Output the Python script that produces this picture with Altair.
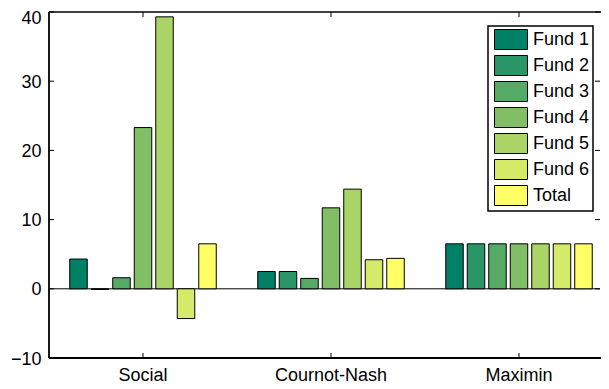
import altair as alt
import pandas as pd

categories = ["Social", "Cournot-Nash", "Maximin"]
series = ["Fund 1", "Fund 2", "Fund 3", "Fund 4", "Fund 5", "Fund 6", "Total"]
social = [4.3, -0.1, 1.6, 23.3, 39.3, -4.3, 6.5]
cournot = [2.5, 2.5, 1.5, 11.7, 14.4, 4.2, 4.4]
maximin = [6.5, 6.5, 6.5, 6.5, 6.5, 6.5, 6.5]
colors = ["#008066", "#2a9566", "#55aa66", "#80bf66", "#aad466", "#d5ea66", "#ffff66"]
y_ticks = [-10, 0, 10, 20, 30, 40]

rows = []
for cat, vals in zip(categories, [social, cournot, maximin]):
    for s, v in zip(series, vals):
        rows.append({"scheme": cat, "fund": s, "value": v})
df = pd.DataFrame(rows)
cat_df = pd.DataFrame({"scheme": categories})
tick_df = pd.DataFrame({"t": y_ticks})
zero_df = pd.DataFrame({"z": [0]})
frame_df = pd.DataFrame({"k": [0]})

W, H = 551, 346
FONT = "Liberation Sans"

xscale = alt.Scale(domain=categories, paddingInner=0.2207, paddingOuter=0.0758, align=0.728)
yscale = alt.Scale(domain=[-10, 40], nice=False, zero=False)

xaxis = alt.Axis(title=None, labelAngle=0, domain=False, ticks=False, labelFontSize=18,
                 labelFont=FONT, labelColor="black", labelPadding=8)
yaxis = alt.Axis(title=None, values=y_ticks, grid=False, domain=False, ticks=False,
                 labelFontSize=18, labelFont=FONT, labelColor="black", labelPadding=8,
                 labelOffset={"condition": {"test": "datum.value === 40", "value": 6}, "value": 1})

zero = alt.Chart(zero_df).mark_rule(color="black", strokeWidth=1).encode(
    y=alt.Y("z:Q", scale=yscale, axis=yaxis)
)

bars = alt.Chart(df).mark_bar(stroke="black", strokeWidth=1, opacity=1).encode(
    x=alt.X("scheme:N", scale=xscale, sort=categories, axis=xaxis),
    xOffset=alt.XOffset("fund:N", sort=series, scale=alt.Scale(paddingInner=0.186, paddingOuter=0)),
    y=alt.Y("value:Q", scale=yscale, axis=yaxis),
    color=alt.Color(
        "fund:N",
        scale=alt.Scale(domain=series, range=colors),
        legend=alt.Legend(
            title=None, orient="none", legendX=439, legendY=14,
            fillColor="white", strokeColor="black", padding=3,
            symbolType="M-1.65,-1H1.65V1H-1.65Z", symbolSize=400,
            symbolOffset=9.5,
            symbolStrokeColor="black", symbolStrokeWidth=1, symbolOpacity=1,
            labelFontSize=18, labelFont=FONT, labelColor="black", labelOffset=11.5,
            rowPadding=1,
        ),
    ),
)

left_ticks = alt.Chart(tick_df).mark_rule(color="black", strokeWidth=1).encode(
    y=alt.Y("t:Q", scale=yscale), x=alt.value(0), x2=alt.value(5)
)
right_ticks = alt.Chart(tick_df).mark_rule(color="black", strokeWidth=1).encode(
    y=alt.Y("t:Q", scale=yscale), x=alt.value(W - 5), x2=alt.value(W)
)
top_ticks = alt.Chart(cat_df).mark_rule(color="black", strokeWidth=1).encode(
    x=alt.X("scheme:N", scale=xscale, sort=categories), y=alt.value(0), y2=alt.value(5)
)
bottom_ticks = alt.Chart(cat_df).mark_rule(color="black", strokeWidth=1).encode(
    x=alt.X("scheme:N", scale=xscale, sort=categories), y=alt.value(H - 5), y2=alt.value(H)
)

frame_left = alt.Chart(frame_df).mark_rule(color="black", strokeWidth=1.8).encode(
    x=alt.value(0), y=alt.value(0), y2=alt.value(H)
)
frame_top = alt.Chart(frame_df).mark_rule(color="black", strokeWidth=1.5).encode(
    y=alt.value(0), x=alt.value(0), x2=alt.value(W + 1)
)
frame_bottom = alt.Chart(frame_df).mark_rule(color="black", strokeWidth=1.8).encode(
    y=alt.value(H), x=alt.value(0), x2=alt.value(W + 1)
)

chart = alt.layer(
    zero, bars, left_ticks, right_ticks, top_ticks, bottom_ticks,
    frame_left, frame_top, frame_bottom,
).properties(
    width=W, height=H,
    autosize=alt.AutoSizeParams(type="none"),
    padding={"left": 41, "top": 4, "right": 1, "bottom": 28},
    background="white",
).configure_view(stroke="transparent").configure_legend(strokeWidth=1.5)

chart.save("out.html", embed_options={"renderer": "svg", "actions": False})
